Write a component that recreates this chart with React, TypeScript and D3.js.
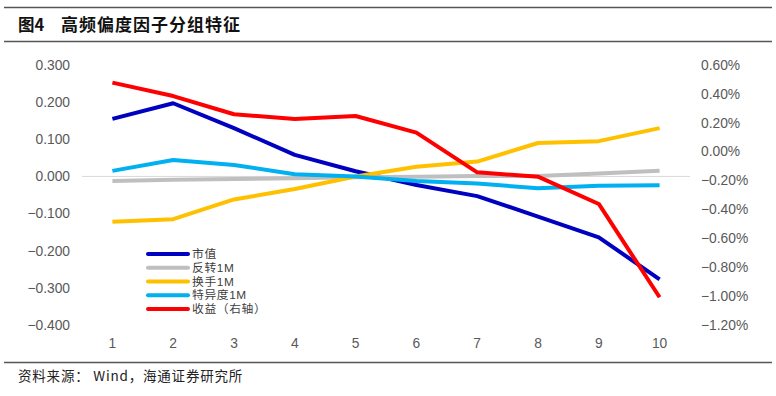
import React from "react";
import * as d3 from "d3";

const groups = ["1", "2", "3", "4", "5", "6", "7", "8", "9", "10"];
const marketCap = [0.155, 0.197, 0.13, 0.058, 0.014, -0.023, -0.053, -0.108, -0.164, -0.277];
const reversal1M = [-0.012, -0.009, -0.007, -0.005, -0.002, -0.001, 0.001, 0.001, 0.008, 0.015];
const turnover1M = [-0.122, -0.115, -0.062, -0.034, 0.0, 0.026, 0.04, 0.09, 0.095, 0.13];
const idio1M = [0.015, 0.044, 0.031, 0.006, 0.0, -0.012, -0.019, -0.032, -0.025, -0.024];
const returnPct = [0.478, 0.385, 0.259, 0.226, 0.247, 0.132, -0.143, -0.173, -0.362, -1.008];

const leftTicks = [0.3, 0.2, 0.1, 0, -0.1, -0.2, -0.3, -0.4];
const rightTicks = [0.6, 0.4, 0.2, 0, -0.2, -0.4, -0.6, -0.8, -1.0, -1.2];

const seriesNames = ["市值", "反转1M", "换手1M", "特异度1M", "收益（右轴）"];
const seriesColors = ["#0000C0", "#BFBFBF", "#FFC000", "#00B0F0", "#FF0000"];

const W = 776;
const H = 396;
const plot = { left: 82, right: 690, top: 65, bottom: 325 };
const numFont = "'Liberation Sans', Arial, sans-serif";
const cjkFont = "'Noto Sans CJK SC', 'Liberation Sans', sans-serif";
// latin first so the line box stays short in the tight legend
const legendFont = "'Liberation Sans', 'Noto Sans CJK SC', sans-serif";

export default function App() {
  const x = d3.scalePoint<string>().domain(groups).range([plot.left, plot.right]).padding(0.5);
  const yL = d3.scaleLinear().domain([-0.4, 0.3]).range([plot.bottom, plot.top]);
  const yR = d3.scaleLinear().domain([-1.2, 0.6]).range([plot.bottom, plot.top]);

  const lineL = d3.line<number>().x((_, i) => x(groups[i]) as number).y(d => yL(d));
  const lineR = d3.line<number>().x((_, i) => x(groups[i]) as number).y(d => yR(d));

  const leftSeries = [marketCap, reversal1M, turnover1M, idio1M];
  const legendY = d3.scaleLinear().domain([0, 4]).range([254, 309]);

  return (
    <svg width={W} height={H} style={{ position: "absolute", left: 0, top: 0, background: "#fff" }}>
      {/* header */}
      <line x1={4} x2={772} y1={7.5} y2={7.5} stroke="#555" strokeWidth={1.5} />
      <text x={18} y={31} fontFamily={cjkFont} fontWeight="bold" fontSize={16.5} fill="#111">
        图4
      </text>
      <text x={61} y={31} fontFamily={cjkFont} fontWeight="bold" fontSize={17} letterSpacing={1} fill="#111">
        高频偏度因子分组特征
      </text>
      <line x1={4} x2={772} y1={41.5} y2={41.5} stroke="#555" strokeWidth={1.5} />

      {/* zero line */}
      <line x1={plot.left} x2={plot.right} y1={yL(0)} y2={yL(0)} stroke="#D9D9D9" strokeWidth={1} />

      {/* left axis */}
      {leftTicks.map(t => (
        <text key={t} x={70} y={yL(t)} dy="0.35em" textAnchor="end" fontFamily={numFont} fontSize={13.8} fill="#595959">
          {d3.format(".3f")(t)}
        </text>
      ))}
      {/* right axis */}
      {rightTicks.map(t => (
        <text key={t} x={701} y={yR(t)} dy="0.35em" textAnchor="start" fontFamily={numFont} fontSize={13.8} fill="#595959">
          {d3.format(".2f")(t) + "%"}
        </text>
      ))}
      {/* x axis */}
      {groups.map(g => (
        <text key={g} x={x(g)} y={343} dy="0.35em" textAnchor="middle" fontFamily={numFont} fontSize={13.8} fill="#595959">
          {g}
        </text>
      ))}

      {/* series */}
      {leftSeries.map((s, i) => (
        <path key={i} d={lineL(s) as string} fill="none" stroke={seriesColors[i]} strokeWidth={4} strokeLinejoin="round" />
      ))}
      <path d={lineR(returnPct) as string} fill="none" stroke={seriesColors[4]} strokeWidth={4} strokeLinejoin="round" />

      {/* legend */}
      {seriesNames.map((n, i) => (
        <g key={n}>
          <line x1={148} x2={188} y1={legendY(i)} y2={legendY(i)} stroke={seriesColors[i]} strokeWidth={4} strokeLinecap="round" />
          <text x={192} y={legendY(i)} dy="0.36em" fontFamily={legendFont} fontSize={11.8} letterSpacing={0.6} fill="#404040">
            {n}
          </text>
        </g>
      ))}

      {/* footer */}
      <line x1={4} x2={772} y1={362.5} y2={362.5} stroke="#555" strokeWidth={1.5} />
      <text x={18} y={381} fontFamily={cjkFont} fontSize={13.5} letterSpacing={0.8} fill="#222">
        资料来源： Wind，海通证券研究所
      </text>
    </svg>
  );
}
